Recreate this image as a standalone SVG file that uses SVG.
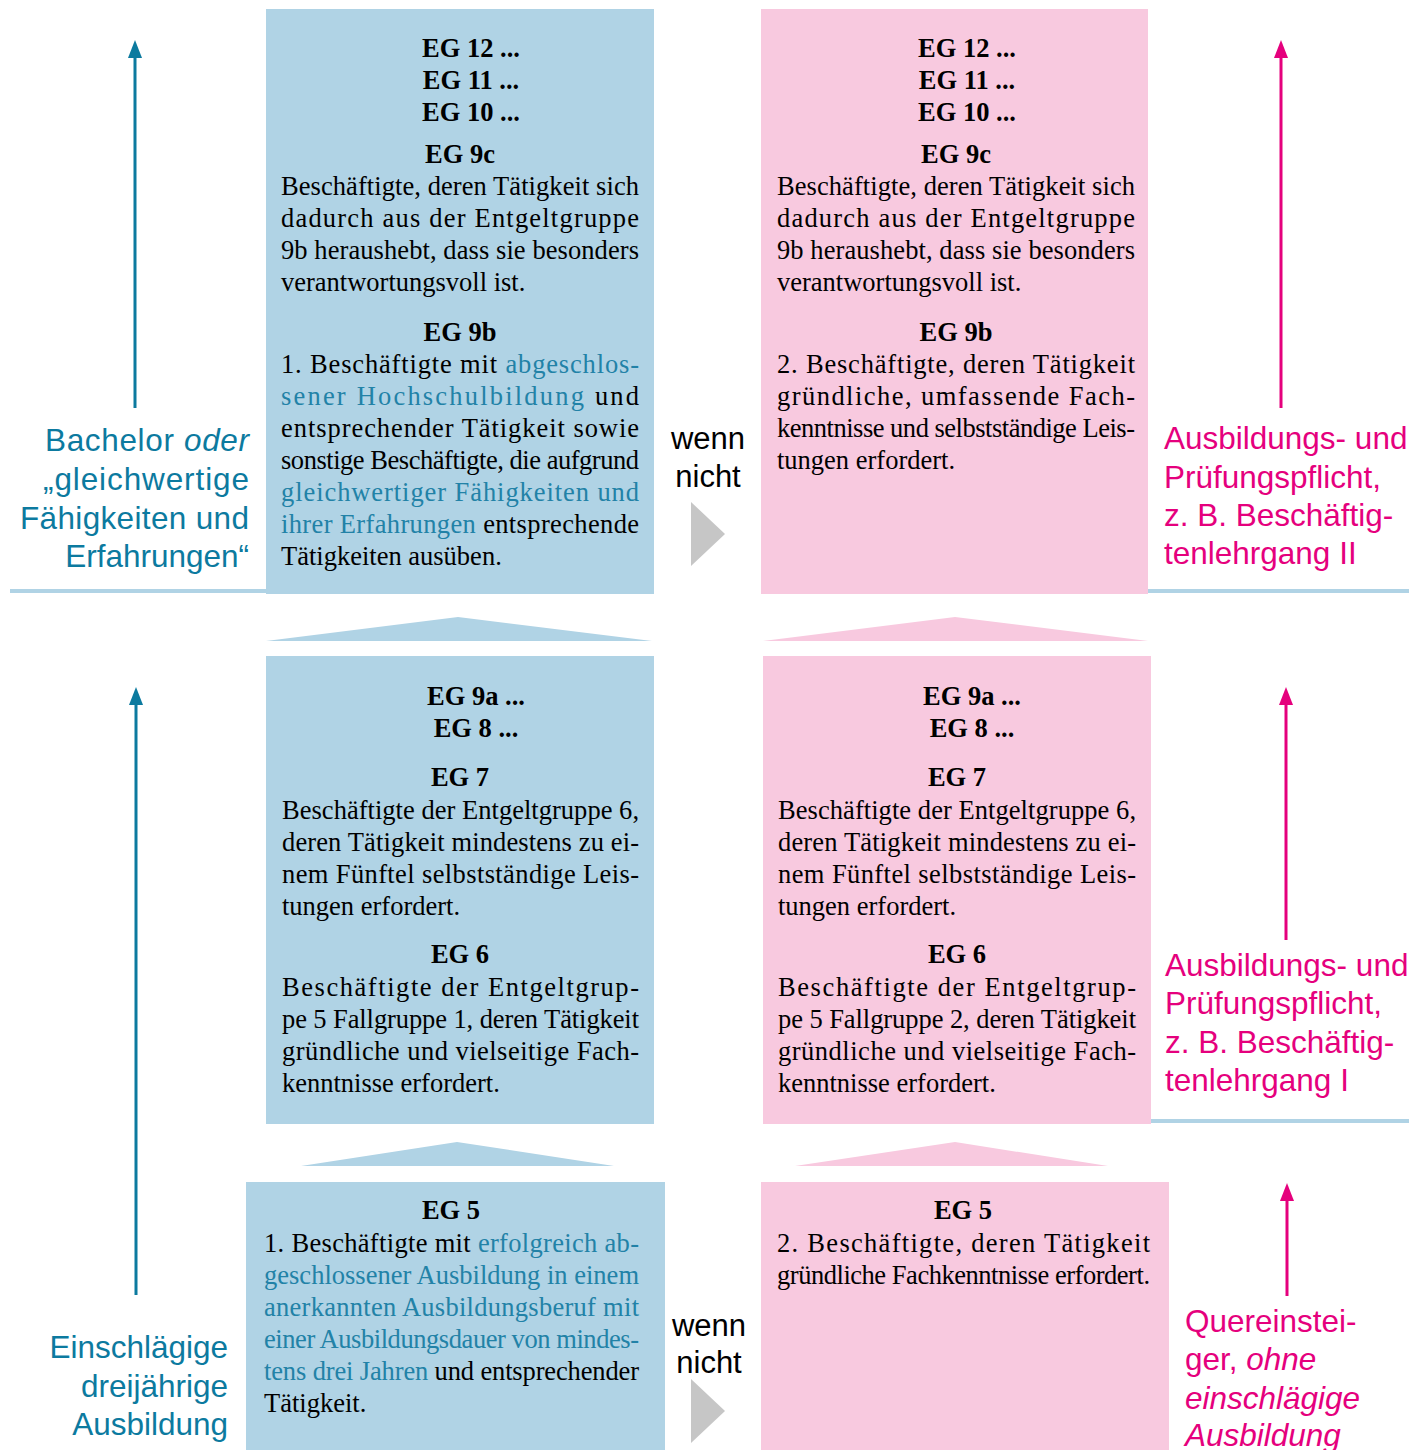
<svg xmlns="http://www.w3.org/2000/svg" width="1427" height="1450" viewBox="0 0 1427 1450">
<style>
.bb{fill:#b0d3e5}
.pb{fill:#f8c9df}
.hd{font-family:"Liberation Serif","Times New Roman",serif;font-size:26.5px;font-weight:bold;fill:#000;text-anchor:middle}
.tx{font-family:"Liberation Serif","Times New Roman",serif;font-size:26.5px;fill:#000}
.hl{fill:#2282a7}
.lb{font-family:"Liberation Sans",Arial,sans-serif;font-size:31.5px;fill:#0c7a9f}
.lp{font-family:"Liberation Sans",Arial,sans-serif;font-size:31.5px;fill:#e5007d}
.wn{font-family:"Liberation Sans",Arial,sans-serif;font-size:31px;fill:#000;text-anchor:middle}
.ab{stroke:#0c7a9f;stroke-width:3;fill:none}
.ap{stroke:#e5007d;stroke-width:3;fill:none}
.gt{fill:#c6c6c6}
</style>
<defs>
<marker id="mb" viewBox="0 0 18 14" refX="2" refY="7" markerWidth="18" markerHeight="14" markerUnits="userSpaceOnUse" orient="auto"><path d="M0,0 L18,7 L0,14 z" fill="#0c7a9f"/></marker>
<marker id="mp" viewBox="0 0 18 14" refX="2" refY="7" markerWidth="18" markerHeight="14" markerUnits="userSpaceOnUse" orient="auto"><path d="M0,0 L18,7 L0,14 z" fill="#e5007d"/></marker>
</defs>
<rect width="1427" height="1450" fill="#fff"/>
<g id="rules">
<rect x="10" y="589" width="262" height="4" fill="#b0d3e5"/>
<rect x="1143" y="589" width="266" height="4" fill="#b0d3e5"/>
<rect x="1151" y="1119" width="258" height="4" fill="#b0d3e5"/>
</g>
<g id="node-blue-top">
<rect class="bb" x="266" y="9" width="388" height="585"/>
<text class="hd" x="471" y="57">EG 12 ...</text>
<text class="hd" x="471" y="89">EG 11 ...</text>
<text class="hd" x="471" y="121">EG 10 ...</text>
<text class="hd" x="460" y="163">EG 9c</text>
<text class="tx" x="281" y="195" textLength="358" lengthAdjust="spacing">Beschäftigte, deren Tätigkeit sich</text>
<text class="tx" x="281" y="227" textLength="358" lengthAdjust="spacing">dadurch aus der Entgeltgruppe</text>
<text class="tx" x="281" y="259" textLength="358" lengthAdjust="spacing">9b heraushebt, dass sie besonders</text>
<text class="tx" x="281" y="291">verantwortungsvoll ist.</text>
<text class="hd" x="460" y="341">EG 9b</text>
<text class="tx" x="281" y="373" textLength="358" lengthAdjust="spacing">1. Beschäftigte mit <tspan class="hl">abgeschlos-</tspan></text>
<text class="tx" x="281" y="405" textLength="358" lengthAdjust="spacing"><tspan class="hl">sener Hochschulbildung</tspan> und</text>
<text class="tx" x="281" y="437" textLength="358" lengthAdjust="spacing">entsprechender Tätigkeit sowie</text>
<text class="tx" x="281" y="469" textLength="358" lengthAdjust="spacing">sonstige Beschäftigte, die aufgrund</text>
<text class="tx" x="281" y="501" textLength="358" lengthAdjust="spacing"><tspan class="hl">gleichwertiger Fähigkeiten und</tspan></text>
<text class="tx" x="281" y="533" textLength="358" lengthAdjust="spacing"><tspan class="hl">ihrer Erfahrungen</tspan> entsprechende</text>
<text class="tx" x="281" y="565">Tätigkeiten ausüben.</text>
</g>
<g id="node-pink-top">
<rect class="pb" x="761" y="9" width="387" height="585"/>
<text class="hd" x="967" y="57">EG 12 ...</text>
<text class="hd" x="967" y="89">EG 11 ...</text>
<text class="hd" x="967" y="121">EG 10 ...</text>
<text class="hd" x="956" y="163">EG 9c</text>
<text class="tx" x="777" y="195" textLength="358" lengthAdjust="spacing">Beschäftigte, deren Tätigkeit sich</text>
<text class="tx" x="777" y="227" textLength="358" lengthAdjust="spacing">dadurch aus der Entgeltgruppe</text>
<text class="tx" x="777" y="259" textLength="358" lengthAdjust="spacing">9b heraushebt, dass sie besonders</text>
<text class="tx" x="777" y="291">verantwortungsvoll ist.</text>
<text class="hd" x="956" y="341">EG 9b</text>
<text class="tx" x="777" y="373" textLength="358" lengthAdjust="spacing">2. Beschäftigte, deren Tätigkeit</text>
<text class="tx" x="777" y="405" textLength="358" lengthAdjust="spacing">gründliche, umfassende Fach-</text>
<text class="tx" x="777" y="437" textLength="358" lengthAdjust="spacing">kenntnisse und selbstständige Leis-</text>
<text class="tx" x="777" y="469">tungen erfordert.</text>
</g>
<g id="node-blue-mid">
<rect class="bb" x="266" y="656" width="388" height="468"/>
<text class="hd" x="476" y="705">EG 9a ...</text>
<text class="hd" x="476" y="737">EG 8 ...</text>
<text class="hd" x="460" y="786">EG 7</text>
<text class="tx" x="282" y="819" textLength="357" lengthAdjust="spacing">Beschäftigte der Entgeltgruppe 6,</text>
<text class="tx" x="282" y="851" textLength="357" lengthAdjust="spacing">deren Tätigkeit mindestens zu ei-</text>
<text class="tx" x="282" y="883" textLength="357" lengthAdjust="spacing">nem Fünftel selbstständige Leis-</text>
<text class="tx" x="282" y="915">tungen erfordert.</text>
<text class="hd" x="460" y="963">EG 6</text>
<text class="tx" x="282" y="996" textLength="357" lengthAdjust="spacing">Beschäftigte der Entgeltgrup-</text>
<text class="tx" x="282" y="1028" textLength="357" lengthAdjust="spacing">pe 5 Fallgruppe 1, deren Tätigkeit</text>
<text class="tx" x="282" y="1060" textLength="357" lengthAdjust="spacing">gründliche und vielseitige Fach-</text>
<text class="tx" x="282" y="1092">kenntnisse erfordert.</text>
</g>
<g id="node-pink-mid">
<rect class="pb" x="763" y="656" width="388" height="468"/>
<text class="hd" x="972" y="705">EG 9a ...</text>
<text class="hd" x="972" y="737">EG 8 ...</text>
<text class="hd" x="957" y="786">EG 7</text>
<text class="tx" x="778" y="819" textLength="358" lengthAdjust="spacing">Beschäftigte der Entgeltgruppe 6,</text>
<text class="tx" x="778" y="851" textLength="358" lengthAdjust="spacing">deren Tätigkeit mindestens zu ei-</text>
<text class="tx" x="778" y="883" textLength="358" lengthAdjust="spacing">nem Fünftel selbstständige Leis-</text>
<text class="tx" x="778" y="915">tungen erfordert.</text>
<text class="hd" x="957" y="963">EG 6</text>
<text class="tx" x="778" y="996" textLength="358" lengthAdjust="spacing">Beschäftigte der Entgeltgrup-</text>
<text class="tx" x="778" y="1028" textLength="358" lengthAdjust="spacing">pe 5 Fallgruppe 2, deren Tätigkeit</text>
<text class="tx" x="778" y="1060" textLength="358" lengthAdjust="spacing">gründliche und vielseitige Fach-</text>
<text class="tx" x="778" y="1092">kenntnisse erfordert.</text>
</g>
<g id="node-blue-bottom">
<rect class="bb" x="246" y="1182" width="419" height="268"/>
<text class="hd" x="451" y="1219">EG 5</text>
<text class="tx" x="264" y="1252" textLength="375" lengthAdjust="spacing">1. Beschäftigte mit <tspan class="hl">erfolgreich ab-</tspan></text>
<text class="tx" x="264" y="1284" textLength="375" lengthAdjust="spacing"><tspan class="hl">geschlossener Ausbildung in einem</tspan></text>
<text class="tx" x="264" y="1316" textLength="375" lengthAdjust="spacing"><tspan class="hl">anerkannten Ausbildungsberuf mit</tspan></text>
<text class="tx" x="264" y="1348" textLength="375" lengthAdjust="spacing"><tspan class="hl">einer Ausbildungsdauer von mindes-</tspan></text>
<text class="tx" x="264" y="1380" textLength="375" lengthAdjust="spacing"><tspan class="hl">tens drei Jahren</tspan> und entsprechender</text>
<text class="tx" x="264" y="1412">Tätigkeit.</text>
</g>
<g id="node-pink-bottom">
<rect class="pb" x="761" y="1182" width="408" height="268"/>
<text class="hd" x="963" y="1219">EG 5</text>
<text class="tx" x="777" y="1252" textLength="373" lengthAdjust="spacing">2. Beschäftigte, deren Tätigkeit</text>
<text class="tx" x="777" y="1284" textLength="373" lengthAdjust="spacing">gründliche Fachkenntnisse erfordert.</text>
</g>
<g id="label-bachelor">
<text class="lb" text-anchor="end" x="249" y="451" textLength="204" lengthAdjust="spacing">Bachelor <tspan font-style="italic">oder</tspan></text>
<text class="lb" text-anchor="end" x="249" y="490" textLength="206" lengthAdjust="spacing">„gleichwertige</text>
<text class="lb" text-anchor="end" x="249" y="529" textLength="229" lengthAdjust="spacing">Fähigkeiten und</text>
<text class="lb" text-anchor="end" x="249" y="567">Erfahrungen“</text>
</g>
<g id="label-ausbildung">
<text class="lb" text-anchor="end" x="228" y="1358">Einschlägige</text>
<text class="lb" text-anchor="end" x="228" y="1397">dreijährige</text>
<text class="lb" text-anchor="end" x="228" y="1435">Ausbildung</text>
</g>
<g id="label-lehrgang2">
<text class="lp" x="1164" y="449">Ausbildungs- und</text>
<text class="lp" x="1164" y="488">Prüfungspflicht,</text>
<text class="lp" x="1164" y="526">z. B. Beschäftig-</text>
<text class="lp" x="1164" y="564">tenlehrgang II</text>
</g>
<g id="label-lehrgang1">
<text class="lp" x="1165" y="976">Ausbildungs- und</text>
<text class="lp" x="1165" y="1014">Prüfungspflicht,</text>
<text class="lp" x="1165" y="1053">z. B. Beschäftig-</text>
<text class="lp" x="1165" y="1091">tenlehrgang I</text>
</g>
<g id="label-quereinsteiger">
<text class="lp" x="1185" y="1332">Quereinstei-</text>
<text class="lp" x="1185" y="1370">ger, <tspan font-style="italic">ohne</tspan></text>
<text class="lp" x="1185" y="1409" font-style="italic">einschlägige</text>
<text class="lp" x="1185" y="1446" font-style="italic">Ausbildung</text>
</g>
<g id="label-wenn-nicht-top">
<text class="wn" x="708" y="449">wenn</text>
<text class="wn" x="708" y="487">nicht</text>
</g>
<g id="label-wenn-nicht-bottom">
<text class="wn" x="709" y="1336">wenn</text>
<text class="wn" x="709" y="1373">nicht</text>
</g>
<g id="connectors">
<line class="ab" x1="135" y1="408" x2="135" y2="56" marker-end="url(#mb)"/>
<line class="ab" x1="136" y1="1295" x2="136" y2="703" marker-end="url(#mb)"/>
<line class="ap" x1="1281" y1="408" x2="1281" y2="56" marker-end="url(#mp)"/>
<line class="ap" x1="1286" y1="940" x2="1286" y2="703" marker-end="url(#mp)"/>
<line class="ap" x1="1287" y1="1296" x2="1287" y2="1199" marker-end="url(#mp)"/>
<polygon class="gt" points="691,502 725,534 691,566"/>
<polygon class="gt" points="691,1379 725,1411 691,1443"/>
<polygon class="bb" points="266,641 458,617 652,641"/>
<polygon class="pb" points="763,641 955,617 1148,641"/>
<polygon class="bb" points="301,1166 457,1142 614,1166"/>
<polygon class="pb" points="795,1166 955,1142 1108,1166"/>
</g>
</svg>
